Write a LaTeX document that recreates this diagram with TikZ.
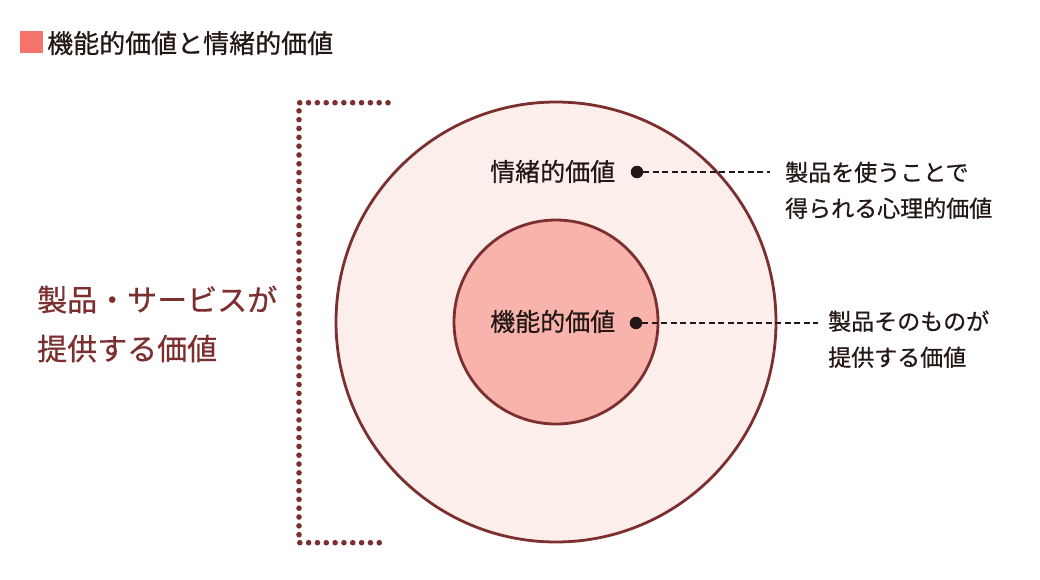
\documentclass[tikz,border=0pt]{standalone}
\usepackage{fontspec}
\setmainfont[FakeBold=0.6]{Noto Sans CJK JP}
\usepackage{xcolor}
\usetikzlibrary{positioning}

\definecolor{rim}{HTML}{7C2F2F}
\definecolor{outerfill}{HTML}{FCEEEA}
\definecolor{innerfill}{HTML}{F8B4AC}
\definecolor{titlesq}{HTML}{F4736B}
\definecolor{ink}{HTML}{231815}

\begin{document}
\begin{tikzpicture}[
  x=1pt, y=-1pt,
  font=\fontsize{25}{30}\selectfont,
  ring/.style = {draw=rim, line width=2.8pt, circle, inner sep=0pt},
  lbl/.style  = {anchor=base west, inner sep=0pt, text=ink},
  note/.style = {lbl, align=left, font=\fontsize{23}{36}\selectfont},
  blob/.style = {circle, fill=ink, minimum size=12.5pt, inner sep=0pt},
  lead/.style = {ink, line width=1.8pt, dash pattern=on 6pt off 3.5pt},
  brk/.style  = {rim, line width=5.6pt, line cap=round,
                 dash pattern=on 0pt off 8.83pt}
]
\useasboundingbox (0,0) rectangle (1040,579);
%% Title
\node[fill=titlesq, minimum size=22.5pt, inner sep=0pt] (sq) at (31.5,42) {};
\node[lbl, font=\fontsize{26}{30}\selectfont] (ttl) at (47,53) {機能的価値と情緒的価値};
%% Value circles
\node[ring, fill=outerfill, minimum size=440pt] (outer) at (556,322) {};
\node[ring, fill=innerfill, minimum size=204pt] (inner) at (556,322) {};
%% Labels inside the circles
\node[lbl] (emo) at (490,181) {情緒的価値};
\node[lbl] (fun) at (490,331) {機能的価値};
\node[blob] (d1) at (637,172) {};
\node[blob] (d2) at (636,323) {};
%% Explanations (anchored on the last line)
\node[note] (n1) at (785,217) {製品を使うことで\\得られる心理的価値};
\node[note] (n2) at (828,366) {製品そのものが\\提供する価値};
\draw[lead, shorten >=15pt] (d1) -- (d1 -| n1.west);
\draw[lead, shorten >=10pt] (d2) -- (d2 -| n2.west);
%% Bracket and its caption
\draw[brk] (388,102.7) -- (299,102.7) -- (299,542.7) -- (388,542.7);
\node[lbl, text=rim, align=left, font=\fontsize{30}{49}\selectfont] (cap) at (37,360) {製品・サービスが\\提供する価値};
\end{tikzpicture}
\end{document}
